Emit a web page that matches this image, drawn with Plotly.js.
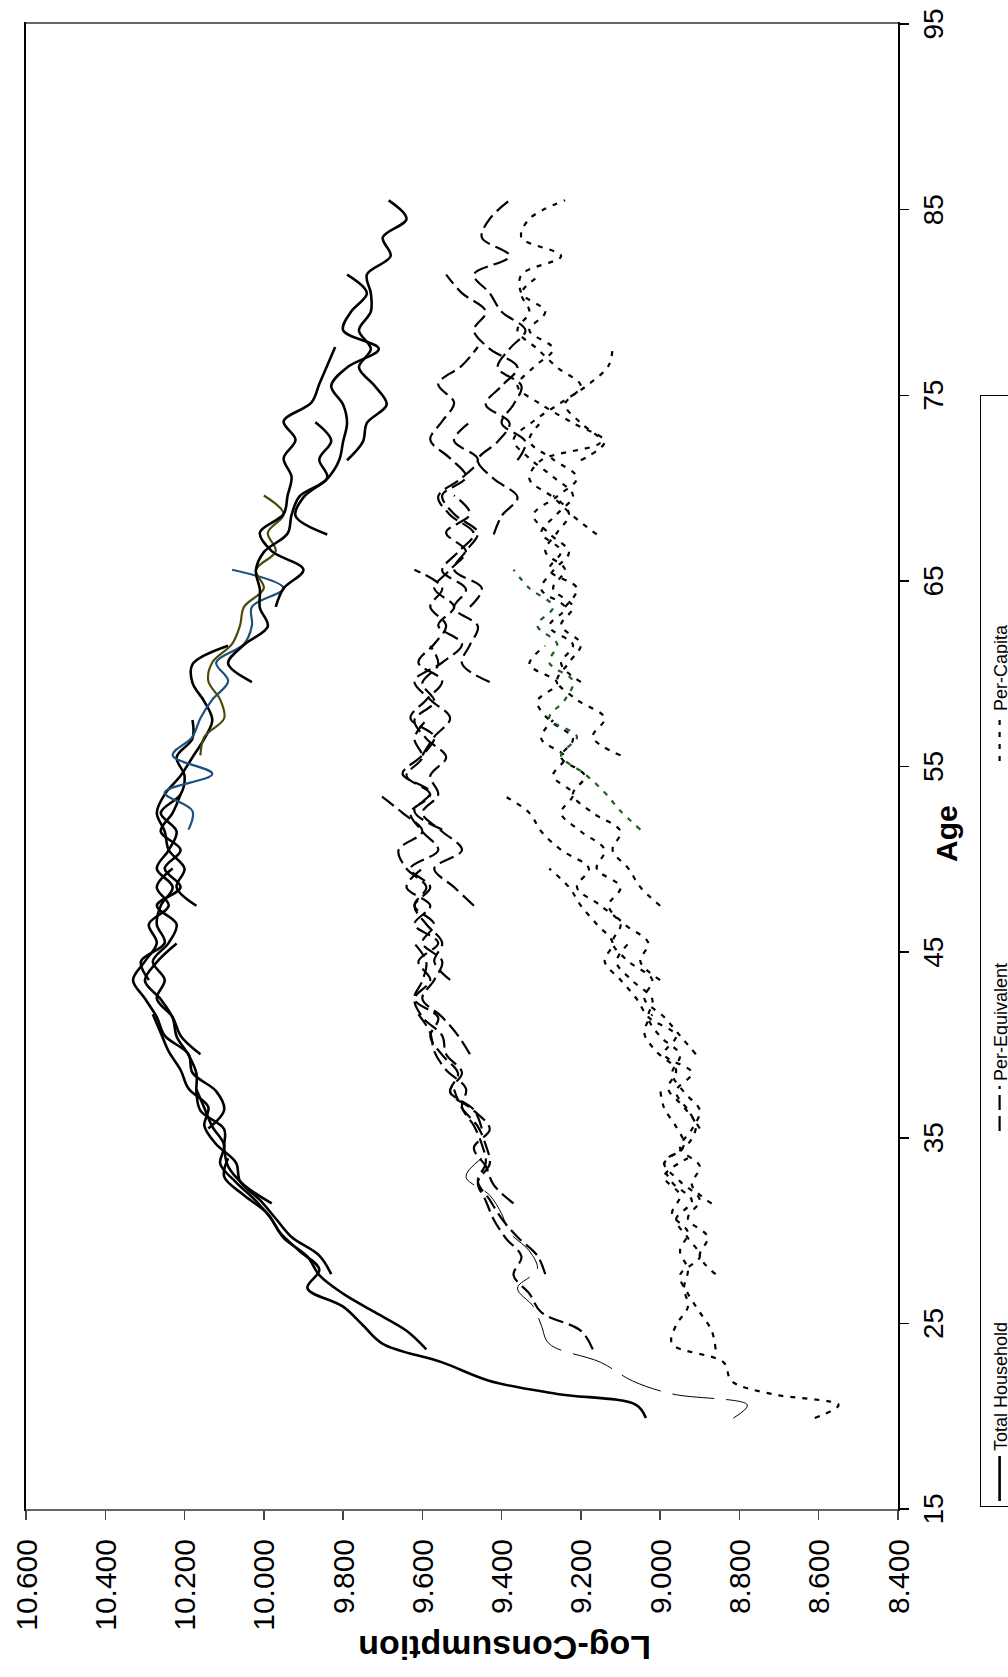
<!DOCTYPE html>
<html>
<head>
<meta charset="utf-8">
<script src="https://cdn.plot.ly/plotly-3.0.1.min.js"></script>
<style>
html, body { margin:0; padding:0; background:#fff; width:1008px; height:1677px; overflow:hidden; }
#wrap { position:absolute; left:0; top:0; width:1677px; height:1040px; transform-origin:0 0; }
#chart { width:1677px; height:1040px; }
</style>
</head>
<body>
<div id="wrap"><div id="chart"></div></div>
<script>
// ---- data ----
// Age points of the youngest cohort (denser at the start, where the curves turn sharply)
var firstCohortAge = [19.9, 20.6, 21.2, 21.9, 22.9, 23.9, 24.9, 25.9, 26.9, 27.9, 28.9, 29.9, 30.9, 31.9, 32.9, 33.9];
// Start ages of the other cohorts (each observed for 15 yearly points)
var cohortStartAge = [23.6, 27.65, 31.46, 35.5, 39.5, 43.5, 47.5, 51.6, 55.6, 59.55, 63.6, 67.5, 71.5];

// Total Household (solid)
var total01 = [9.036, 9.06, 9.26, 9.43, 9.55, 9.70, 9.75, 9.80, 9.89, 9.86, 9.91, 9.96, 9.99, 10.05, 10.10, 10.09];
var total02 = [9.59, 9.64, 9.72, 9.80, 9.86, 9.89, 9.95, 9.98, 10.02, 10.07, 10.11, 10.10, 10.13, 10.15, 10.17];
var total03 = [9.83, 9.86, 9.93, 9.97, 10.01, 10.06, 10.07, 10.12, 10.15, 10.14, 10.19, 10.21, 10.24, 10.26, 10.28];
var total04 = [9.98, 10.05, 10.09, 10.10, 10.10, 10.16, 10.17, 10.17, 10.19, 10.22, 10.23, 10.26, 10.30, 10.27, 10.22];
var total05 = [10.14, 10.10, 10.12, 10.18, 10.19, 10.25, 10.27, 10.30, 10.33, 10.30, 10.27, 10.29, 10.24, 10.27, 10.23];
var total06 = [10.16, 10.21, 10.23, 10.27, 10.25, 10.28, 10.24, 10.22, 10.27, 10.21, 10.25, 10.21, 10.26, 10.23, 10.21];
var total07 = [10.29, 10.31, 10.25, 10.27, 10.26, 10.23, 10.27, 10.24, 10.22, 10.26, 10.21, 10.20, 10.22, 10.18, 10.18];
var total08 = [10.17, 10.22, 10.20, 10.24, 10.25, 10.27, 10.25, 10.21, 10.18, 10.15, 10.13, 10.15, 10.18, 10.18, 10.09];
var total09 = [10.19, 10.18, 10.25, 10.13, 10.23, 10.18, 10.16, 10.13, 10.09, 10.12, 10.05, 10.03, 10.03, 9.95, 10.08];
var total10 = [10.16, 10.15, 10.10, 10.11, 10.14, 10.13, 10.08, 10.06, 10.05, 10.00, 10.02, 9.97, 9.99, 9.95, 10.00];
var total11 = [10.03, 10.09, 10.05, 9.99, 10.01, 10.01, 10.02, 10.00, 9.94, 9.93, 9.91, 9.84, 9.86, 9.83, 9.87];
var total12 = [9.97, 9.95, 9.90, 9.98, 10.01, 9.95, 9.94, 9.93, 9.95, 9.92, 9.95, 9.88, 9.86, 9.84, 9.82];
var total13 = [9.84, 9.92, 9.90, 9.84, 9.81, 9.80, 9.79, 9.80, 9.83, 9.79, 9.71, 9.80, 9.78, 9.74, 9.79];
var total14 = [9.79, 9.75, 9.74, 9.69, 9.72, 9.76, 9.73, 9.76, 9.73, 9.73, 9.74, 9.68, 9.70, 9.64, 9.685];

// Per-Equivalent (dashed)
var equiv01 = [8.815, 8.78, 8.97, 9.07, 9.15, 9.28, 9.30, 9.32, 9.36, 9.31, 9.33, 9.38, 9.40, 9.43, 9.49, 9.45];
var equiv02 = [9.17, 9.20, 9.30, 9.33, 9.37, 9.35, 9.39, 9.42, 9.44, 9.46, 9.43, 9.44, 9.46, 9.50, 9.52];
var equiv03 = [9.29, 9.31, 9.36, 9.40, 9.43, 9.46, 9.44, 9.45, 9.47, 9.50, 9.49, 9.54, 9.57, 9.58, 9.61];
var equiv04 = [9.37, 9.42, 9.44, 9.47, 9.43, 9.47, 9.53, 9.51, 9.55, 9.58, 9.56, 9.62, 9.60, 9.59, 9.62];
var equiv05 = [9.45, 9.47, 9.53, 9.50, 9.54, 9.55, 9.60, 9.62, 9.58, 9.61, 9.56, 9.62, 9.58, 9.64, 9.60];
var equiv06 = [9.48, 9.51, 9.55, 9.60, 9.57, 9.55, 9.60, 9.57, 9.62, 9.59, 9.64, 9.66, 9.60, 9.65, 9.71];
var equiv07 = [9.53, 9.57, 9.55, 9.59, 9.62, 9.58, 9.63, 9.56, 9.60, 9.63, 9.58, 9.64, 9.60, 9.62, 9.59];
var equiv08 = [9.47, 9.52, 9.57, 9.50, 9.55, 9.60, 9.56, 9.58, 9.54, 9.59, 9.62, 9.57, 9.60, 9.56, 9.58];
var equiv09 = [9.55, 9.62, 9.58, 9.65, 9.60, 9.57, 9.63, 9.59, 9.55, 9.61, 9.57, 9.54, 9.58, 9.55, 9.62];
var equiv10 = [9.60, 9.57, 9.53, 9.58, 9.62, 9.55, 9.50, 9.56, 9.52, 9.57, 9.53, 9.49, 9.54, 9.48, 9.52];
var equiv11 = [9.43, 9.50, 9.48, 9.46, 9.52, 9.49, 9.55, 9.51, 9.47, 9.53, 9.56, 9.50, 9.46, 9.52, 9.48];
var equiv12 = [9.48, 9.45, 9.52, 9.49, 9.46, 9.52, 9.55, 9.49, 9.53, 9.58, 9.55, 9.52, 9.56, 9.50, 9.46];
var equiv13 = [9.42, 9.40, 9.36, 9.42, 9.46, 9.41, 9.38, 9.44, 9.40, 9.36, 9.43, 9.47, 9.44, 9.50, 9.54];
var equiv14 = [9.36, 9.34, 9.40, 9.37, 9.35, 9.41, 9.38, 9.34, 9.40, 9.43, 9.47, 9.38, 9.45, 9.43, 9.38];

// Per-Capita (dotted)
var capita01 = [8.61, 8.55, 8.72, 8.82, 8.84, 8.97, 8.96, 8.93, 8.94, 8.93, 8.95, 8.93, 8.97, 8.95, 8.99, 8.93];
var capita02 = [8.86, 8.87, 8.90, 8.93, 8.95, 8.90, 8.93, 8.96, 8.92, 8.97, 8.99, 8.94, 8.96, 8.99, 9.00];
var capita03 = [8.86, 8.90, 8.88, 8.93, 8.90, 8.95, 8.99, 8.93, 8.91, 8.94, 8.98, 8.96, 9.01, 9.04, 9.02];
var capita04 = [8.87, 8.92, 8.90, 8.95, 8.92, 8.90, 8.94, 8.97, 8.95, 9.00, 9.03, 9.02, 9.07, 9.11, 9.08];
var capita05 = [8.90, 8.93, 8.96, 8.92, 8.99, 8.96, 9.03, 9.06, 9.10, 9.14, 9.12, 9.16, 9.20, 9.23, 9.28];
var capita06 = [8.91, 8.95, 8.99, 9.04, 9.02, 9.08, 9.12, 9.10, 9.15, 9.21, 9.18, 9.25, 9.30, 9.33, 9.40];
var capita07 = [9.00, 9.05, 9.03, 9.09, 9.13, 9.10, 9.16, 9.14, 9.20, 9.25, 9.22, 9.27, 9.24, 9.30, 9.27];
var capita08 = [9.00, 9.05, 9.08, 9.12, 9.10, 9.17, 9.22, 9.19, 9.25, 9.22, 9.28, 9.31, 9.26, 9.33, 9.29];
var capita09 = [9.05, 9.10, 9.14, 9.19, 9.25, 9.21, 9.28, 9.24, 9.22, 9.28, 9.26, 9.31, 9.27, 9.33, 9.37];
var capita10 = [9.10, 9.17, 9.14, 9.21, 9.26, 9.23, 9.20, 9.25, 9.22, 9.27, 9.24, 9.29, 9.26, 9.23, 9.27];
var capita11 = [9.20, 9.25, 9.22, 9.28, 9.24, 9.30, 9.27, 9.23, 9.28, 9.32, 9.26, 9.21, 9.27, 9.33, 9.30];
var capita12 = [9.24, 9.21, 9.28, 9.25, 9.30, 9.26, 9.22, 9.27, 9.33, 9.37, 9.32, 9.25, 9.18, 9.13, 9.12];
var capita13 = [9.16, 9.22, 9.27, 9.33, 9.30, 9.15, 9.20, 9.24, 9.20, 9.26, 9.31, 9.36, 9.33, 9.35, 9.30];
var capita14 = [9.20, 9.14, 9.22, 9.30, 9.36, 9.32, 9.27, 9.33, 9.29, 9.35, 9.35, 9.25, 9.35, 9.33, 9.24];

var seriesNames = ['Total Household', 'Per-Equivalent', 'Per-Capita'];
var ageTickVals = [15, 25, 35, 45, 55, 65, 75, 85, 95];
var consTickVals = [8.4, 8.6, 8.8, 9.0, 9.2, 9.4, 9.6, 9.8, 10.0, 10.2, 10.4, 10.6];

var totalCohorts = [total01, total02, total03, total04, total05, total06, total07, total08, total09, total10, total11, total12, total13, total14];
var equivCohorts = [equiv01, equiv02, equiv03, equiv04, equiv05, equiv06, equiv07, equiv08, equiv09, equiv10, equiv11, equiv12, equiv13, equiv14];
var capitaCohorts = [capita01, capita02, capita03, capita04, capita05, capita06, capita07, capita08, capita09, capita10, capita11, capita12, capita13, capita14];

// ---- styles ----
var solidStyle = {color:'#000000', width:2.6, dash:'solid', shape:'spline', smoothing:1};
var dashStyle = {color:'#000000', width:2.2, dash:'15px,6px', shape:'spline', smoothing:1};
var dotStyle = {color:'#000000', width:2.2, dash:'5px,7px', shape:'spline', smoothing:1};

function cohortAges(k, n) {
  if (k === 0) return firstCohortAge;
  var a = [];
  for (var i = 0; i < n; i++) a.push(cohortStartAge[k - 1] + i);
  return a;
}

var traces = [];
function addGroup(cohorts, baseStyle, name, legendCohort, rank, overrides) {
  cohorts.forEach(function (vals, k) {
    var line = Object.assign({}, baseStyle, overrides[k] || {});
    traces.push({
      type:'scatter', mode:'lines',
      x: cohortAges(k, vals.length), y: vals,
      line: line, name: name, legendgroup: name,
      showlegend: k === legendCohort, legendrank: rank,
      hoverinfo:'skip'
    });
  });
}
addGroup(totalCohorts, solidStyle, seriesNames[0], 0, 1,
  {8:{color:'#1d4f7f', width:2.2}, 9:{color:'#4d4b0c', width:2.2}});
addGroup(equivCohorts, dashStyle, seriesNames[1], 1, 2,
  {0:{width:1, dash:'42px,12px'}});
addGroup(capitaCohorts, dotStyle, seriesNames[2], 0, 3,
  {8:{color:'#1f5f1f'}});

var W = 1677, H = 1040;
var plotL = 168, plotR = 1653.5, plotT = 25.5, plotB = 898.5;
var pw = plotR - plotL, ph = plotB - plotT;

var layout = {
  width: W, height: H,
  margin: {l: plotL, r: W - plotR, t: plotT, b: H - plotB, pad: 0},
  paper_bgcolor: '#ffffff', plot_bgcolor: '#ffffff',
  font: {family: 'Liberation Sans, Arial, sans-serif', color: '#000000', size: 16},
  showlegend: true,
  xaxis: {
    range: [15, 95], tickmode: 'array', tickvals: ageTickVals,
    ticks: 'outside', ticklen: 9, tickwidth: 1.5, tickcolor: '#000',
    showgrid: false, zeroline: false,
    showline: true, linecolor: '#000', linewidth: 2, mirror: true,
    tickfont: {size: 28, family: 'Liberation Sans, Arial, sans-serif'}
  },
  yaxis: {
    range: [8.4, 10.6], tickmode: 'array', tickvals: consTickVals, tickformat: '.3f',
    ticks: 'outside', ticklen: 9, tickwidth: 1.5, tickcolor: '#444',
    showgrid: false, zeroline: false,
    showline: true, linecolor: '#666', linewidth: 2, mirror: true,
    ticklabelstandoff: 13,
    tickfont: {size: 30, family: 'Liberation Sans, Arial, sans-serif'}
  },
  legend: {
    orientation: 'h', x: (170 - plotL) / pw, xanchor: 'left',
    y: -(981 - plotB) / ph, yanchor: 'top',
    bordercolor: '#000', borderwidth: 1, bgcolor: '#ffffff',
    font: {size: 18}, itemwidth: 45, entrywidth: 310, traceorder: 'normal'
  },
  annotations: [
    {text: '<b>Log-Consumption</b>', xref: 'paper', yref: 'paper',
     x: (29 - plotL) / pw, y: (plotB - 505) / ph, xanchor: 'center', yanchor: 'middle',
     textangle: -90, showarrow: false, font: {size: 34}},
    {text: '<b>Age</b>', xref: 'paper', yref: 'paper',
     x: (844 - plotL) / pw, y: -(947 - plotB) / ph, xanchor: 'center', yanchor: 'middle',
     showarrow: false, font: {size: 30}}
  ]
};

Plotly.newPlot('chart', traces, layout, {staticPlot: true, displayModeBar: false}).then(function () {
  // the reference picture is the landscape chart turned a quarter turn counter-clockwise
  document.getElementById('wrap').style.transform = 'translate(0px, 1677px) rotate(-90deg)';
});
</script>
</body>
</html>
